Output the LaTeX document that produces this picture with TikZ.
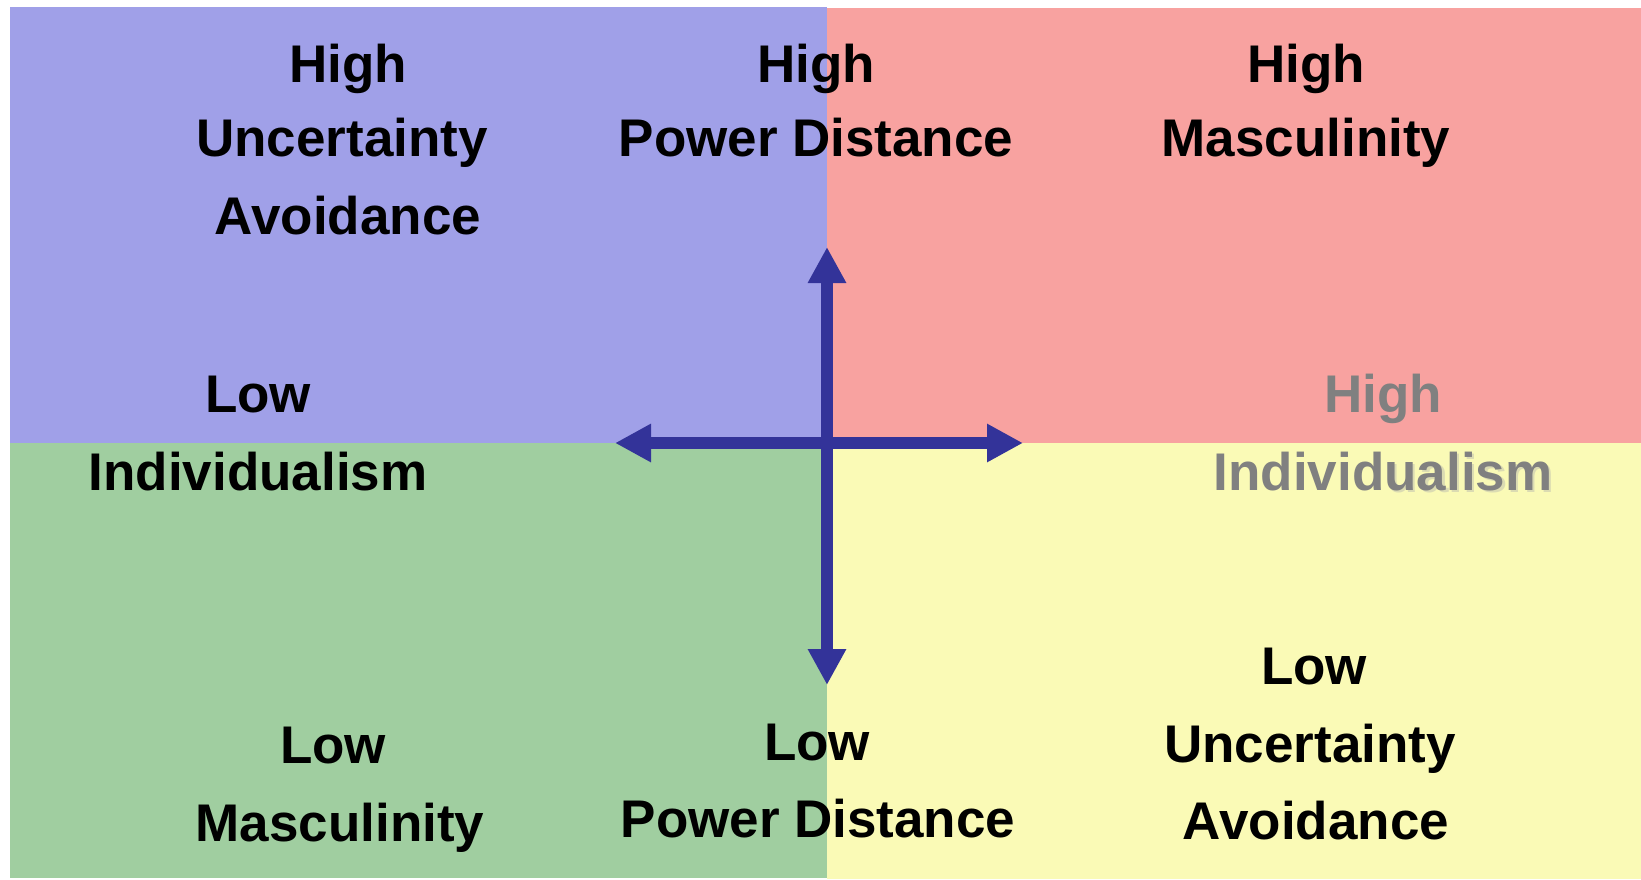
\documentclass[tikz,border=0pt]{standalone}
\usepackage{fontspec}
\setmainfont{Liberation Sans}
\usetikzlibrary{arrows.meta}
\definecolor{qblue}{RGB}{160,160,232}
\definecolor{qpink}{RGB}{248,162,160}
\definecolor{qgreen}{RGB}{160,206,160}
\definecolor{qyellow}{RGB}{250,250,182}
\definecolor{axis}{RGB}{51,51,153}
\definecolor{greytext}{RGB}{128,128,128}
\definecolor{shadowc}{RGB}{150,150,170}
\tikzset{
  lbl/.style={anchor=base,inner sep=0pt,font=\fontsize{53}{64}\selectfont\bfseries},
  glbl/.style={lbl,text=greytext},
  axisarrow/.style={draw=axis,line width=12pt,-{Triangle[length=36pt,width=36pt]}}
}
\begin{document}
\begin{tikzpicture}[x=1pt,y=-1pt]
\useasboundingbox (0,0) rectangle (1641,879);
\fill[qblue] (10,7) rectangle (827,443);
\fill[qpink] (827,8) rectangle (1641,443);
\fill[qgreen] (10,443) rectangle (827,878);
\fill[qyellow] (827,443) rectangle (1641,879);

\coordinate (c) at (827,443);
\coordinate (up) at (827,247);
\coordinate (down) at (827,685);
\coordinate (left) at (615,443);
\coordinate (right) at (1023,443);
\draw[axisarrow] (c) -- (up);
\draw[axisarrow] (c) -- (down);
\draw[axisarrow] (c) -- (left);
\draw[axisarrow] (c) -- (right);

% top left
\node[lbl] (tl1) at (348,82) {High};
\node[lbl] (tl2) at (342,156) {Uncertainty};
\node[lbl] (tl3) at (348,234) {Avoidance};
% top middle
\node[lbl] (tm1) at (816,82) {High};
\node[lbl] (tm2) at (816,156) {Power Distance};
% top right
\node[lbl] (tr1) at (1306,82) {High};
\node[lbl] (tr2) at (1306,156) {Masculinity};
% left middle
\node[lbl] (ml1) at (258,412) {Low};
\node[lbl] (ml2) at (258,490) {Individualism};
% right middle (grey)
\node[glbl] (mr1) at (1383,412) {High};
\node[lbl,text=shadowc,opacity=0.3] (mr2s) at (1385.5,492.5) {\phantom{Individ}ualism};
\node[glbl] (mr2) at (1383,490) {Individualism};
% bottom left
\node[lbl] (bl1) at (333,763) {Low};
\node[lbl] (bl2) at (340,841) {Masculinity};
% bottom middle
\node[lbl] (bm1) at (817,760) {Low};
\node[lbl] (bm2) at (818,837) {Power Distance};
% bottom right
\node[lbl] (br1) at (1314,684) {Low};
\node[lbl] (br2) at (1310,762) {Uncertainty};
\node[lbl] (br3) at (1316,839) {Avoidance};
\end{tikzpicture}
\end{document}
